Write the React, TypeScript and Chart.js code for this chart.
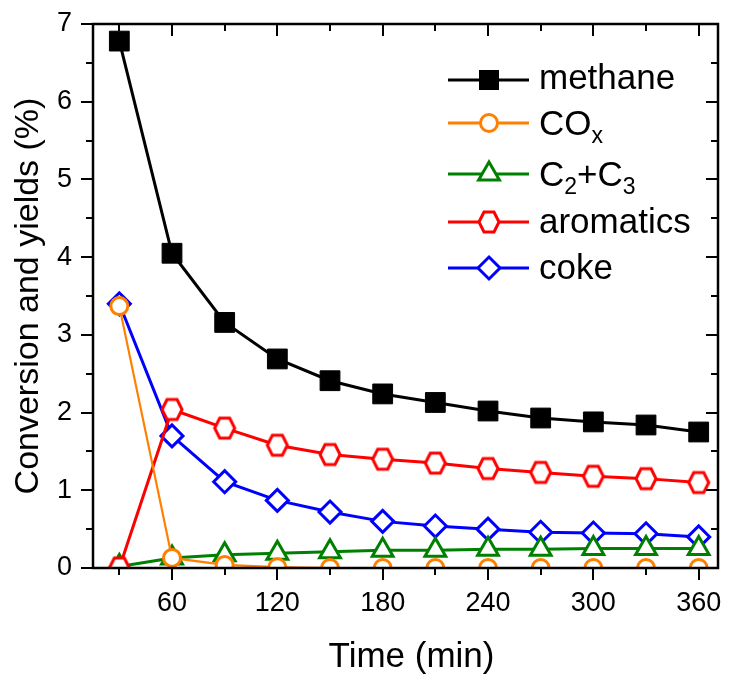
import React, { useEffect, useRef } from 'react';
import { Chart, registerables } from 'chart.js';
Chart.register(...registerables);

const times = [30, 60, 90, 120, 150, 180, 210, 240, 270, 300, 330, 360];
const methane = [6.78, 4.05, 3.16, 2.69, 2.41, 2.24, 2.13, 2.02, 1.93, 1.88, 1.84, 1.75];
const cox = [3.37, 0.13, 0.04, 0.01, 0.0, 0.0, 0.0, 0.0, 0.0, 0.0, 0.0, 0.0];
const c2c3 = [0.02, 0.13, 0.17, 0.19, 0.21, 0.23, 0.23, 0.24, 0.24, 0.25, 0.25, 0.25];
const aromatics = [0.0, 2.04, 1.8, 1.58, 1.46, 1.4, 1.35, 1.28, 1.23, 1.18, 1.15, 1.1];
const coke = [3.4, 1.7, 1.11, 0.87, 0.72, 0.6, 0.54, 0.5, 0.46, 0.45, 0.44, 0.4];
const xTickValues = [60, 120, 180, 240, 300, 360];
const yTickValues = [0, 1, 2, 3, 4, 5, 6, 7];
const xMin = 15;
const xMax = 371;
const yMin = 0;
const yMax = 7;
const xMinorStep = 30;
const yMinorStep = 0.5;

const FONT = '"Liberation Sans", Arial, sans-serif';
const ORANGE = '#FF8000';
const GREEN = '#008000';
const RED = '#FF0000';
const BLUE = '#0000FF';

function makeHexagon(color: string): HTMLCanvasElement {
  const c = document.createElement('canvas');
  const S = 28;
  c.width = S;
  c.height = S;
  const g = c.getContext('2d')!;
  const cx = S / 2, cy = S / 2, rx = 10, ry = 10;
  g.beginPath();
  g.moveTo(cx - rx, cy);
  g.lineTo(cx - rx / 2, cy - ry);
  g.lineTo(cx + rx / 2, cy - ry);
  g.lineTo(cx + rx, cy);
  g.lineTo(cx + rx / 2, cy + ry);
  g.lineTo(cx - rx / 2, cy + ry);
  g.closePath();
  g.fillStyle = '#fff';
  g.fill();
  g.lineWidth = 3;
  g.strokeStyle = color;
  g.lineJoin = 'miter';
  g.stroke();
  return c;
}

function drawLegendMarker(ctx: CanvasRenderingContext2D, kind: string, x: number, y: number, color: string, hex: HTMLCanvasElement) {
  ctx.save();
  ctx.lineWidth = 3;
  ctx.strokeStyle = color;
  ctx.fillStyle = '#fff';
  ctx.beginPath();
  if (kind === 'square') {
    ctx.fillStyle = color;
    ctx.fillRect(x - 10, y - 10, 20, 20);
  } else if (kind === 'circle') {
    ctx.arc(x, y, 8.5, 0, Math.PI * 2);
    ctx.fill();
    ctx.stroke();
  } else if (kind === 'triangle') {
    const r = 12;
    ctx.moveTo(x, y - r);
    ctx.lineTo(x + r * Math.sin(Math.PI * 2 / 3), y - r * Math.cos(Math.PI * 2 / 3));
    ctx.lineTo(x + r * Math.sin(Math.PI * 4 / 3), y - r * Math.cos(Math.PI * 4 / 3));
    ctx.closePath();
    ctx.fill();
    ctx.stroke();
  } else if (kind === 'hexagon') {
    ctx.drawImage(hex, x - hex.width / 2, y - hex.height / 2);
  } else if (kind === 'diamond') {
    const r = 11;
    ctx.moveTo(x, y - r);
    ctx.lineTo(x + r, y);
    ctx.lineTo(x, y + r);
    ctx.lineTo(x - r, y);
    ctx.closePath();
    ctx.fill();
    ctx.stroke();
  }
  ctx.restore();
}

export default function App() {
  const ref = useRef<HTMLCanvasElement | null>(null);

  useEffect(() => {
    document.body.style.margin = '0';
    const canvas = ref.current;
    if (!canvas) return;
    const hex = makeHexagon(RED);

    const toPts = (arr: number[]) => arr.map((v, i) => ({ x: times[i], y: v }));

    const legendItems = [
      { kind: 'square', color: '#000', parts: [{ t: 'methane', sub: false }], lineY: 80, baseY: 89 },
      { kind: 'circle', color: ORANGE, parts: [{ t: 'CO', sub: false }, { t: 'x', sub: true }], lineY: 123, baseY: 135 },
      { kind: 'triangle', color: GREEN, parts: [{ t: 'C', sub: false }, { t: '2', sub: true }, { t: '+C', sub: false }, { t: '3', sub: true }], lineY: 174, baseY: 186 },
      { kind: 'hexagon', color: RED, parts: [{ t: 'aromatics', sub: false }], lineY: 222, baseY: 233 },
      { kind: 'diamond', color: BLUE, parts: [{ t: 'coke', sub: false }], lineY: 268, baseY: 279 },
    ];

    const framePlugin = {
      id: 'frameTicks',
      afterDatasetsDraw(chart: any) {
        const { ctx, chartArea: a, scales } = chart;
        const x = scales.x, y = scales.y;
        ctx.save();
        ctx.strokeStyle = '#000';
        ctx.lineCap = 'butt';
        ctx.lineWidth = 2;
        const seg = (x1: number, y1: number, x2: number, y2: number) => {
          ctx.beginPath();
          ctx.moveTo(x1, y1);
          ctx.lineTo(x2, y2);
          ctx.stroke();
        };
        for (let v = xMinorStep; v <= xMax; v += xMinorStep) {
          const px = Math.round(x.getPixelForValue(v));
          const major = xTickValues.includes(v);
          const L = major ? 12 : 7;
          seg(px, a.bottom, px, a.bottom + L);
          seg(px, a.top, px, a.top + L);
        }
        for (let v = yMin; v <= yMax + 1e-9; v += yMinorStep) {
          const py = Math.round(y.getPixelForValue(v));
          const major = yTickValues.includes(v);
          const L = major ? 12 : 7;
          seg(a.left, py, a.left - L, py);
          seg(a.right, py, a.right - L, py);
        }
        ctx.lineWidth = 2.5;
        ctx.strokeRect(a.left, a.top, a.right - a.left, a.bottom - a.top);
        ctx.restore();
      },
      afterDraw(chart: any) {
        const { ctx, chartArea: a } = chart;
        ctx.save();
        for (const it of legendItems) {
          ctx.strokeStyle = it.color;
          ctx.lineWidth = 3;
          ctx.beginPath();
          ctx.moveTo(448, it.lineY);
          ctx.lineTo(529, it.lineY);
          ctx.stroke();
          drawLegendMarker(ctx, it.kind, 489, it.lineY, it.color, hex);
          let tx = 539;
          ctx.fillStyle = '#000';
          ctx.textBaseline = 'alphabetic';
          ctx.textAlign = 'left';
          for (const p of it.parts) {
            ctx.font = p.sub ? `23px ${FONT}` : `35px ${FONT}`;
            ctx.fillText(p.t, tx, it.baseY + (p.sub ? 8 : 0));
            tx += ctx.measureText(p.t).width;
          }
        }
        // x axis title
        ctx.fillStyle = '#000';
        ctx.font = `35px ${FONT}`;
        ctx.textAlign = 'center';
        ctx.textBaseline = 'middle';
        ctx.fillText('Time (min)', (a.left + a.right) / 2 + 6, 657);
        ctx.restore();
      },
    };

    const common = { clip: 0 as any, tension: 0 };

    const chart = new Chart(canvas, {
      type: 'line',
      data: {
        datasets: [
          {
            label: 'methane', data: toPts(methane), borderColor: '#000', borderWidth: 3,
            pointStyle: 'rect', pointRadius: 14, pointBackgroundColor: '#000', pointBorderColor: '#000', pointBorderWidth: 1,
            order: 0, ...common,
          },
          {
            label: 'COx', data: toPts(cox), borderColor: ORANGE, borderWidth: 2.2,
            pointStyle: 'circle', pointRadius: 8.5, pointBackgroundColor: '#fff', pointBorderColor: ORANGE, pointBorderWidth: 3,
            order: 1, ...common,
          },
          {
            label: 'C2+C3', data: toPts(c2c3), borderColor: GREEN, borderWidth: 3,
            pointStyle: 'triangle', pointRadius: 12, pointBackgroundColor: '#fff', pointBorderColor: GREEN, pointBorderWidth: 3,
            order: 3, ...common,
          },
          {
            label: 'aromatics', data: toPts(aromatics), borderColor: RED, borderWidth: 3,
            pointStyle: hex as any, pointRadius: 10, pointBackgroundColor: '#fff', pointBorderColor: RED,
            order: 2, ...common,
          },
          {
            label: 'coke', data: toPts(coke), borderColor: BLUE, borderWidth: 3,
            pointStyle: 'rectRot', pointRadius: 11, pointBackgroundColor: '#fff', pointBorderColor: BLUE, pointBorderWidth: 3,
            order: 4, ...common,
          },
        ],
      },
      options: {
        animation: false,
        responsive: false,
        maintainAspectRatio: false,
        layout: { padding: { top: 24, right: 10, left: 0, bottom: 0 } },
        plugins: { legend: { display: false }, tooltip: { enabled: false } },
        scales: {
          x: {
            type: 'linear',
            min: xMin,
            max: xMax,
            grid: { display: false, drawTicks: false },
            border: { display: false },
            afterBuildTicks: (s: any) => { s.ticks = xTickValues.map((v) => ({ value: v })); },
            afterFit: (s: any) => { s.height = 107; s.paddingLeft = 0; s.paddingRight = 0; },
            ticks: { color: '#000', font: { family: FONT, size: 27 }, padding: 19, maxRotation: 0, autoSkip: false },
            title: { display: false, text: 'Time (min)' },
          },
          y: {
            type: 'linear',
            min: yMin,
            max: yMax,
            grid: { display: false, drawTicks: false },
            border: { display: false },
            afterBuildTicks: (s: any) => { s.ticks = yTickValues.map((v) => ({ value: v })); },
            afterFit: (s: any) => { s.width = 93; s.paddingTop = 0; s.paddingBottom = 0; },
            ticks: { color: '#000', font: { family: FONT, size: 27 }, padding: 21 },
            title: { display: true, text: 'Conversion and yields (%)', color: '#000', font: { family: FONT, size: 34, lineHeight: 1 }, padding: { top: 12, bottom: 0 } },
          },
        },
      },
      plugins: [framePlugin],
    });
    return () => chart.destroy();
  }, []);

  return (
    <div style={{ width: 733, height: 675, position: 'relative', background: '#fff' }}>
      <canvas ref={ref} width={733} height={675} style={{ display: 'block' }} />
    </div>
  );
}
